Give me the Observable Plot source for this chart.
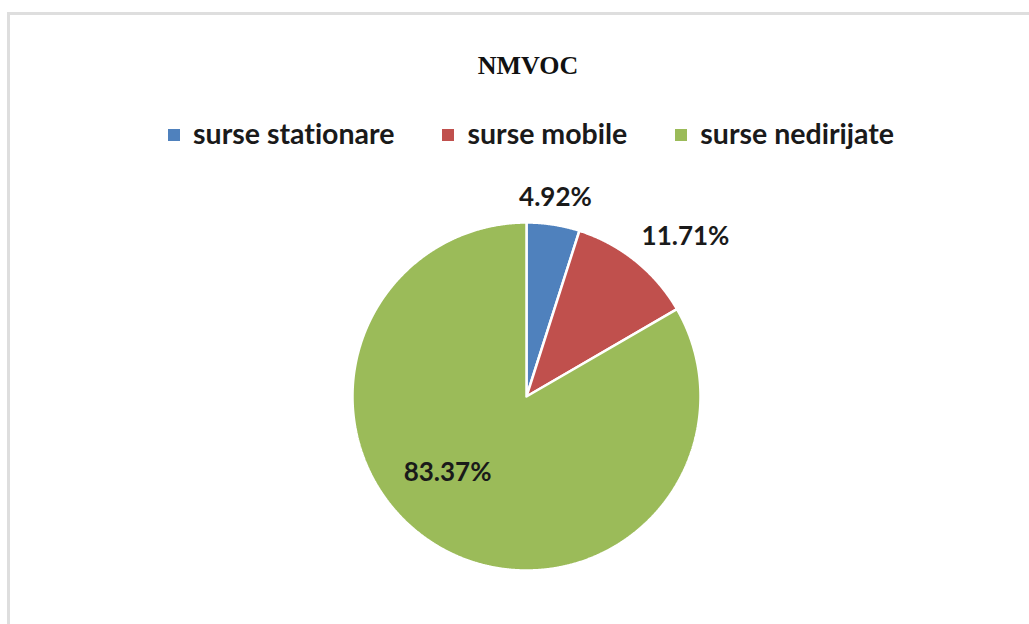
<!DOCTYPE html>
<html>
<head>
<meta charset="utf-8">
<script src="https://cdn.jsdelivr.net/npm/d3@7"></script>
<script src="https://cdn.jsdelivr.net/npm/@observablehq/plot@0.6"></script>
<style>
  html, body { margin: 0; padding: 0; background: #fff; width: 1029px; height: 624px; overflow: hidden; }
  #frame { position: absolute; left: 7px; top: 12px; width: 1100px; height: 700px; border-left: 3px solid #dedede; border-top: 3px solid #dedede; }
  #title { position: absolute; left: 0; top: 52px; width: 1056px; text-align: center; font-family: "Liberation Serif", serif; font-weight: bold; font-size: 26px; line-height: 28px; color: #111; }
  #legend { position: absolute; left: 0; top: 118px; width: 1062px; display: flex; justify-content: center; font-family: Lato, sans-serif; font-weight: bold; font-size: 28.5px; line-height: 30px; color: #1a1a1a; font-variant-ligatures: none; font-feature-settings: "liga" 0; }
  .item { display: flex; align-items: center; margin: 0 24px; }
  .sw { width: 12px; height: 12px; margin-right: 13px; margin-top: 3px; }
  #chart { position: absolute; left: 0; top: 160px; }
</style>
</head>
<body>
<div id="frame"></div>
<div id="title"></div>
<div id="legend"></div>
<div id="chart"></div>
<script>
const chartTitle = "NMVOC";
const categories = ["surse stationare", "surse mobile", "surse nedirijate"];
const values = [4.92, 11.71, 83.37];
const valueLabels = ["4.92%", "11.71%", "83.37%"];
const colors = ["#4F81BD", "#C0504D", "#9BBB59"];

// layout
const W = 1029, H = 464, R = 174, cx = 526, cy = 236;
const labelLayout = [
  {r: 201 / R, dx: -2, dy: 0},
  {r: 225 / R, dx: 18, dy: 16},
  {r: 110 / R, dx: -24, dy: -19}
];

document.getElementById("title").textContent = chartTitle;
const legend = document.getElementById("legend");
categories.forEach((c, i) => {
  const it = document.createElement("div");
  it.className = "item";
  const sw = document.createElement("div");
  sw.className = "sw";
  sw.style.background = colors[i];
  const t = document.createElement("span");
  t.textContent = c;
  it.appendChild(sw); it.appendChild(t);
  legend.appendChild(it);
});

const data = categories.map((c, i) => ({category: c, value: values[i], label: valueLabels[i]}));
const arcs = d3.pie().sort(null).value(d => d.value)(data);

const pts = [];
arcs.forEach(a => {
  const c = a.data.category;
  pts.push({category: c, x: 0, y: 0});
  const n = Math.max(2, Math.ceil((a.endAngle - a.startAngle) / (Math.PI / 720)));
  for (let k = 0; k <= n; k++) {
    const t = a.startAngle + (a.endAngle - a.startAngle) * k / n;
    pts.push({category: c, x: Math.sin(t), y: Math.cos(t)});
  }
  pts.push({category: c, x: 0, y: 0});
});

const labelPts = arcs.map((a, i) => {
  const m = (a.startAngle + a.endAngle) / 2;
  const L = labelLayout[i];
  return {
    label: a.data.label,
    x: L.r * Math.sin(m) + L.dx / R,
    y: L.r * Math.cos(m) - L.dy / R
  };
});

const plot = Plot.plot({
  width: W,
  height: H,
  margin: 0,
  x: {domain: [-cx / R, (W - cx) / R], axis: null},
  y: {domain: [-(H - cy) / R, cy / R], axis: null},
  color: {domain: categories, range: colors},
  marks: [
    Plot.line(pts, {x: "x", y: "y", z: "category", fill: "category", stroke: "white", strokeWidth: 2.5, strokeLinejoin: "miter", curve: "linear"}),
    Plot.text(labelPts, {x: "x", y: "y", text: "label", fontFamily: "Lato, sans-serif", fontWeight: "bold", fontSize: 26, fill: "#1a1a1a"})
  ]
});
document.getElementById("chart").appendChild(plot);
</script>
</body>
</html>
